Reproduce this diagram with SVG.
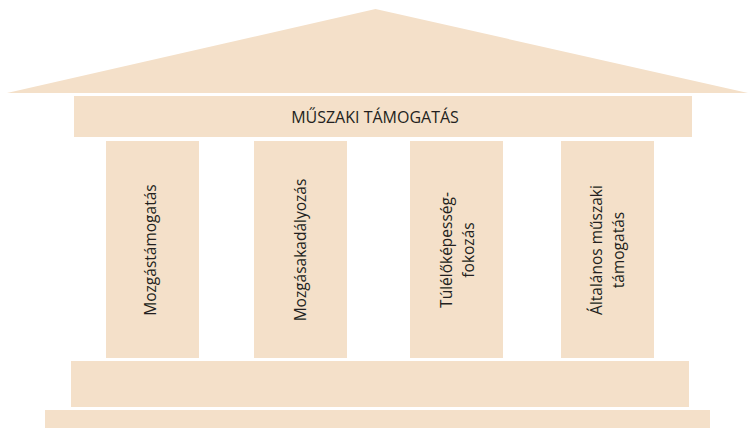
<svg xmlns="http://www.w3.org/2000/svg" width="748" height="428" viewBox="0 0 748 428">
<style>
.p{fill:#F4E0C9;}
.t{font-family:"Open Sans","Noto Sans",sans-serif;font-size:15.5px;fill:#231F20;text-anchor:middle;}
.h{font-size:16px;}
</style>
<rect width="748" height="428" fill="#fff"/>
<g id="roof"><polygon class="p" points="7,93 375.5,9 748,93"/></g>
<g id="architrave"><rect class="p" x="74" y="96" width="618" height="41"/>
<text class="t h" x="375" y="123">MŰSZAKI TÁMOGATÁS</text></g>
<g id="col1"><rect class="p" x="106" y="141" width="93" height="217"/>
<text class="t" transform="translate(156,250) rotate(-90)">Mozgástámogatás</text></g>
<g id="col2"><rect class="p" x="254" y="141" width="93" height="217"/>
<text class="t" transform="translate(306,250) rotate(-90)">Mozgásakadályozás</text></g>
<g id="col3"><rect class="p" x="410" y="141" width="93" height="217"/>
<text class="t" transform="translate(452,250) rotate(-90)">Túlélőképesség-</text>
<text class="t" transform="translate(474,250) rotate(-90)">fokozás</text></g>
<g id="col4"><rect class="p" x="561" y="141" width="93" height="217"/>
<text class="t" transform="translate(602,250) rotate(-90)">Általános műszaki</text>
<text class="t" transform="translate(624,250) rotate(-90)">támogatás</text></g>
<g id="stylobate"><rect class="p" x="71" y="361" width="618" height="46"/></g>
<g id="step"><rect class="p" x="45" y="410" width="665" height="18"/></g>
<g id="connectors"></g>
</svg>
